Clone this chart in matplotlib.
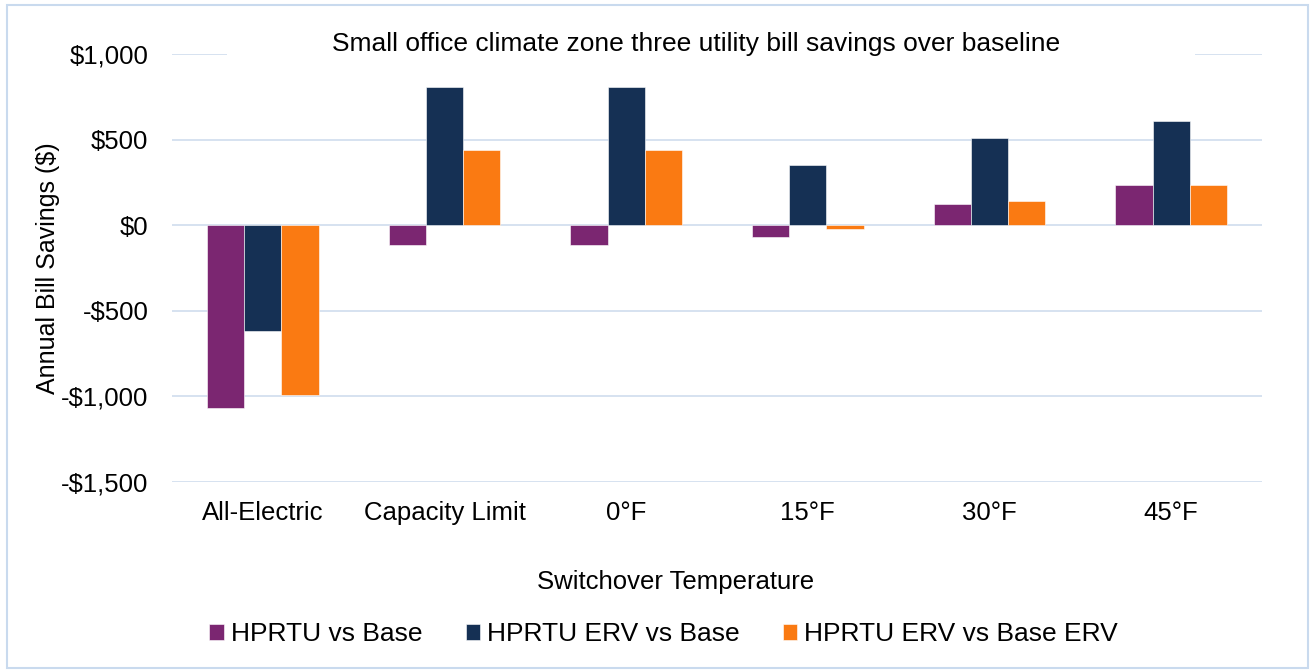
import numpy as np
import matplotlib
matplotlib.use('Agg')
import matplotlib.pyplot as plt
from matplotlib.patches import Rectangle
from matplotlib.ticker import FuncFormatter

# --- Data ---
categories = ["All-Electric", "Capacity Limit", "0°F", "15°F", "30°F", "45°F"]
series_names = ["HPRTU vs Base", "HPRTU ERV vs Base", "HPRTU ERV vs Base ERV"]
hprtu_vs_base = [-1070, -117, -117, -70, 123, 234]
hprtu_erv_vs_base = [-620, 807, 807, 351, 509, 608]
hprtu_erv_vs_base_erv = [-990, 439, 439, -23, 140, 234]
yticks = [-1500, -1000, -500, 0, 500, 1000]

colors = ["#7B2671", "#153054", "#FA7A12"]
grid_color = "#D3DFEF"
FS = 18.5

plt.rcParams['font.family'] = ['Liberation Sans', 'DejaVu Sans']

fig = plt.figure(figsize=(13.12, 6.70), dpi=100)
W, H = 1312, 670
# axes box in pixels: left 172, right 1262, top 54, bottom 482
ax = fig.add_axes([172 / W, 1 - 482 / H, 1090 / W, 428 / H])

x = np.arange(len(categories))
width = 0.205
for i, (vals, name) in enumerate(zip([hprtu_vs_base, hprtu_erv_vs_base, hprtu_erv_vs_base_erv], series_names)):
    ax.bar(x + (i - 1) * width, vals, width, color=colors[i], label=name,
           edgecolor='#ffffff', linewidth=0.4, zorder=3)

ax.set_xlim(-0.5, len(categories) - 0.5)
ax.set_ylim(-1500, 1000)
ax.set_yticks(yticks)
ax.yaxis.set_major_formatter(FuncFormatter(lambda v, p: f"${v:,.0f}" if v >= 0 else f"-${-v:,.0f}"))
ax.set_xticks(x)
ax.set_xticklabels(categories)
ax.tick_params(axis='both', length=0, labelsize=FS, colors='#000000')
ax.tick_params(axis='x', pad=14)
ax.tick_params(axis='y', pad=17)
ax.grid(axis='y', color=grid_color, linewidth=1.3, zorder=0)
for s in ax.spines.values():
    s.set_visible(False)

ax.set_ylabel("Annual Bill Savings ($)", fontsize=18)
ax.yaxis.set_label_coords(-0.103, 0.5)
ax.set_xlabel("Switchover Temperature", fontsize=FS)
ax.xaxis.set_label_coords(0.462, -0.205)

# title sits on a white box that hides the top gridline
fig.patches.append(Rectangle((227 / W, 1 - 62 / H), (1195 - 227) / W, 34 / H,
                             transform=fig.transFigure, facecolor='white',
                             edgecolor='none', zorder=1))
fig.text(696 / W, 1 - 44 / H, "Small office climate zone three utility bill savings over baseline",
         ha='center', va='center', fontsize=19, zorder=2)

ax.legend(loc='center', bbox_to_anchor=(0.451, -0.355), ncol=3, frameon=False,
          fontsize=19, handlelength=0.55, handleheight=0.55, handletextpad=0.25,
          columnspacing=1.65)

fig.patches.append(Rectangle((0.005, 0.003), 0.992, 0.99, transform=fig.transFigure,
                             fill=False, edgecolor='#C9DAEE', linewidth=1.5))

fig.savefig("out.png", dpi=100)
